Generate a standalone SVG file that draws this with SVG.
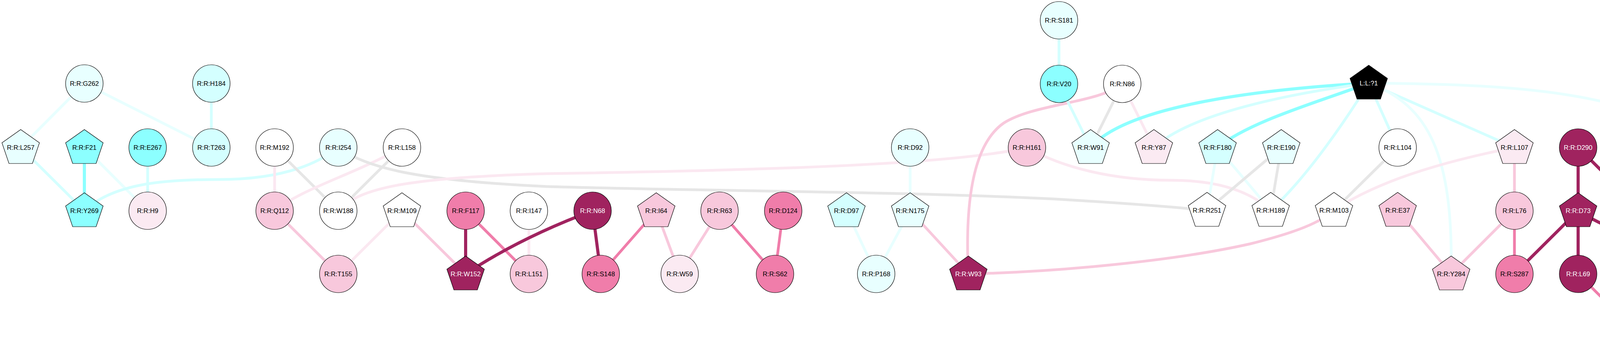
<svg xmlns="http://www.w3.org/2000/svg" xmlns:xlink="http://www.w3.org/1999/xlink" width="5395" height="920" viewBox="0 0 5395 920">
<style>
.e{fill:none;stroke-width:7;stroke-linecap:butt}
.ec1{stroke:#E8FFFF}.ec2{stroke:#D4FFFF}.ec3{stroke:#8CFFFF;stroke-width:8}
.eg{stroke:#E6E6E6}.ep1{stroke:#FBE8F1}.ep2{stroke:#F8C8DC}.ep3{stroke:#F07DAA}.ep4{stroke:#A0235F;stroke-width:8}
.nd circle,.nd use{stroke:#000;stroke-width:1.2}
.w{fill:#FFFFFF}.c1{fill:#E8FFFF}.c2{fill:#D4FFFF}.c3{fill:#8CFFFF}
.p1{fill:#FBEAF2}.p2{fill:#F8C8DC}.p3{fill:#F07DAA}.p4{fill:#A0235F}.k{fill:#000000}
text{font-family:"Liberation Sans",Arial,sans-serif;font-size:16.7px;text-anchor:middle;fill:#000}
text.tw{fill:#FFFFFF}
</style>
<defs>
<polygon id="pent" points="0,-46 48,-12 30,41 -30,41 -48,-12"/>
</defs>
<g id="connectors">
<line class="e ec1" x1="216" y1="214" x2="53" y2="378"/>
<line class="e ec1" x1="216" y1="214" x2="541" y2="378"/>
<line class="e ec2" x1="541" y1="214" x2="541" y2="378"/>
<line class="e ec2" x1="53" y1="378" x2="216" y2="540"/>
<line class="e ec3" x1="216" y1="378" x2="216" y2="540"/>
<line class="e ec1" x1="216" y1="378" x2="378" y2="540"/>
<line class="e ec2" x1="378" y1="378" x2="378" y2="540"/>
<path class="e ec2" d="M216,540 C290,470 420,460 560,460 C700,460 800,430 866,378"/>
<line class="e ep1" x1="703" y1="378" x2="703" y2="540"/>
<line class="e eg" x1="703" y1="378" x2="866" y2="540"/>
<line class="e eg" x1="1029" y1="378" x2="866" y2="540"/>
<path class="e ep1" d="M703,540 C780,480 900,450 1029,378"/>
<path class="e eg" d="M866,378 C940,430 1060,462 1400,478 C1800,490 2300,490 2700,510 C2900,522 3000,530 3090,539"/>
<path class="e ep1" d="M866,540 C920,480 1050,455 1400,445 C2000,436 2450,420 2629,378"/>
<line class="e ep2" x1="703" y1="540" x2="866" y2="702"/>
<line class="e ep1" x1="1029" y1="540" x2="866" y2="702"/>
<line class="e ep2" x1="1029" y1="540" x2="1192" y2="702"/>
<line class="e ep4" x1="1192" y1="540" x2="1192" y2="702"/>
<line class="e ep3" x1="1192" y1="540" x2="1354" y2="702"/>
<line class="e ep1" x1="1354" y1="540" x2="1354" y2="702"/>
<path class="e ep4" d="M1517,540 Q1330,610 1192,702"/>
<line class="e ep4" x1="1517" y1="540" x2="1538" y2="702"/>
<line class="e ep3" x1="1680" y1="540" x2="1538" y2="702"/>
<line class="e ep2" x1="1680" y1="540" x2="1740" y2="702"/>
<line class="e ep2" x1="1842" y1="540" x2="1740" y2="702"/>
<line class="e ep3" x1="1842" y1="540" x2="1984" y2="702"/>
<line class="e ep3" x1="2005" y1="540" x2="1984" y2="702"/>
<line class="e ec1" x1="2167" y1="540" x2="2243" y2="702"/>
<line class="e ec1" x1="2330" y1="540" x2="2243" y2="702"/>
<line class="e ec1" x1="2330" y1="378" x2="2330" y2="540"/>
<line class="e ep2" x1="2330" y1="540" x2="2479" y2="702"/>
<path class="e ep2" d="M2873,215 C2810,265 2650,265 2570,315 C2490,370 2470,520 2479,702"/>
<path class="e ep2" d="M2479,702 C2700,697 3000,670 3200,625 C3320,595 3380,570 3415,539"/>
<path class="e ep1" d="M2629,378 C2720,430 2850,462 3000,462 C3120,462 3200,490 3253,539"/>
<line class="e ec2" x1="2711" y1="52" x2="2711" y2="215"/>
<line class="e ec2" x1="2711" y1="215" x2="2792" y2="378"/>
<line class="e eg" x1="2873" y1="215" x2="2792" y2="378"/>
<line class="e ep1" x1="2873" y1="215" x2="2954" y2="378"/>
<path class="e ec3" d="M3504,213 C3200,230 2880,275 2792,378"/>
<path class="e ec2" d="M3504,213 C3300,240 3050,290 2954,378"/>
<path class="e ec3" d="M3504,213 C3380,260 3200,310 3117,378"/>
<path class="e ec2" d="M3504,213 C3450,300 3350,450 3253,539"/>
<line class="e ec2" x1="3504" y1="213" x2="3578" y2="378"/>
<path class="e ec1" d="M3504,213 C3900,215 4200,240 4365,378"/>
<line class="e ec2" x1="3504" y1="213" x2="3877" y2="378"/>
<path class="e ec1" d="M3504,213 C3660,270 3720,400 3715,702"/>
<line class="e ec1" x1="3117" y1="378" x2="3090" y2="539"/>
<line class="e ec1" x1="3117" y1="378" x2="3253" y2="539"/>
<line class="e eg" x1="3280" y1="378" x2="3090" y2="539"/>
<line class="e eg" x1="3280" y1="378" x2="3253" y2="539"/>
<line class="e eg" x1="3578" y1="378" x2="3415" y2="539"/>
<path class="e ep1" d="M3415,539 Q3560,440 3877,378"/>
<line class="e ep2" x1="3578" y1="539" x2="3715" y2="702"/>
<line class="e ep2" x1="3877" y1="378" x2="3877" y2="540"/>
<line class="e ep2" x1="3877" y1="540" x2="3715" y2="702"/>
<line class="e ep3" x1="3877" y1="540" x2="3877" y2="702"/>
<line class="e ep4" x1="4040" y1="378" x2="4040" y2="540"/>
<line class="e ep4" x1="4040" y1="378" x2="4203" y2="540"/>
<line class="e ep4" x1="4203" y1="52" x2="4203" y2="215"/>
<line class="e ep4" x1="4203" y1="215" x2="4203" y2="378"/>
<line class="e ep4" x1="4203" y1="378" x2="4203" y2="540"/>
<line class="e ep3" x1="4203" y1="378" x2="4514" y2="540"/>
<line class="e ep2" x1="4440" y1="215" x2="4365" y2="378"/>
<line class="e ep2" x1="4440" y1="215" x2="4514" y2="540"/>
<line class="e ep4" x1="4040" y1="540" x2="3877" y2="702"/>
<line class="e ep4" x1="4040" y1="540" x2="4040" y2="702"/>
<path class="e ep4" d="M4040,540 C4150,610 4280,630 4365,702"/>
<line class="e ep3" x1="4040" y1="702" x2="4203" y2="865"/>
<line class="e ep3" x1="4203" y1="702" x2="4203" y2="865"/>
<line class="e ep3" x1="4529" y1="702" x2="4203" y2="865"/>
<path class="e ep4" d="M4514,540 Q4700,600 4853,702"/>
<line class="e ep3" x1="4529" y1="702" x2="4608" y2="865"/>
<line class="e ep1" x1="4691" y1="702" x2="4608" y2="865"/>
<line class="e ep3" x1="4853" y1="702" x2="4934" y2="865"/>
<line class="e ep2" x1="5016" y1="702" x2="4934" y2="865"/>
<line class="e ep3" x1="5016" y1="540" x2="5016" y2="702"/>
<line class="e ep3" x1="5016" y1="540" x2="5178" y2="702"/>
<line class="e ep3" x1="5178" y1="540" x2="5178" y2="702"/>
<line class="e ep3" x1="5178" y1="540" x2="5341" y2="702"/>
<line class="e ep3" x1="5341" y1="540" x2="5341" y2="702"/>
<line class="e ep2" x1="5341" y1="378" x2="5341" y2="540"/>
</g>
<g class="nd">
<g id="n-S181"><circle class="c1" cx="2711" cy="52" r="48"/><text x="2711" y="58">R:R:S181</text></g>
<g id="n-F197"><use href="#pent" x="4203" y="52" class="p3"/><text x="4203" y="58">R:R:F197</text></g>
<g id="n-G262"><circle class="c1" cx="216" cy="214" r="48"/><text x="216" y="220">R:R:G262</text></g>
<g id="n-H184"><circle class="c2" cx="541" cy="214" r="48"/><text x="541" y="220">R:R:H184</text></g>
<g id="n-V20"><circle class="c3" cx="2711" cy="215" r="48"/><text x="2711" y="221">R:R:V20</text></g>
<g id="n-N86"><circle class="w" cx="2873" cy="215" r="48"/><text x="2873" y="221">R:R:N86</text></g>
<g id="n-L1"><use href="#pent" x="3504" y="213" class="k"/><text class="tw" x="3504" y="219">L:L:?1</text></g>
<g id="n-F240"><use href="#pent" x="4203" y="215" class="p4"/><text class="tw" x="4203" y="221">R:R:F240</text></g>
<g id="n-E196"><circle class="w" cx="4440" cy="215" r="48"/><text x="4440" y="221">R:R:E196</text></g>
<g id="n-L257"><use href="#pent" x="53" y="378" class="c1"/><text x="53" y="384">R:R:L257</text></g>
<g id="n-F21"><use href="#pent" x="216" y="378" class="c3"/><text x="216" y="384">R:R:F21</text></g>
<g id="n-E267"><circle class="c3" cx="378" cy="378" r="48"/><text x="378" y="384">R:R:E267</text></g>
<g id="n-T263"><circle class="c2" cx="541" cy="378" r="48"/><text x="541" y="384">R:R:T263</text></g>
<g id="n-M192"><circle class="w" cx="703" cy="378" r="48"/><text x="703" y="384">R:R:M192</text></g>
<g id="n-I254"><circle class="c1" cx="866" cy="378" r="48"/><text x="866" y="384">R:R:I254</text></g>
<g id="n-L158"><circle class="w" cx="1029" cy="378" r="48"/><text x="1029" y="384">R:R:L158</text></g>
<g id="n-D92"><circle class="c1" cx="2330" cy="378" r="48"/><text x="2330" y="384">R:R:D92</text></g>
<g id="n-H161"><circle class="p2" cx="2629" cy="378" r="48"/><text x="2629" y="384">R:R:H161</text></g>
<g id="n-W91"><use href="#pent" x="2792" y="378" class="c1"/><text x="2792" y="384">R:R:W91</text></g>
<g id="n-Y87"><use href="#pent" x="2954" y="378" class="p1"/><text x="2954" y="384">R:R:Y87</text></g>
<g id="n-F180"><use href="#pent" x="3117" y="378" class="c2"/><text x="3117" y="384">R:R:F180</text></g>
<g id="n-E190"><use href="#pent" x="3280" y="378" class="c1"/><text x="3280" y="384">R:R:E190</text></g>
<g id="n-L104"><circle class="w" cx="3578" cy="378" r="48"/><text x="3578" y="384">R:R:L104</text></g>
<g id="n-L107"><use href="#pent" x="3877" y="378" class="p1"/><text x="3877" y="384">R:R:L107</text></g>
<g id="n-D290"><circle class="p4" cx="4040" cy="378" r="48"/><text class="tw" x="4040" y="384">R:R:D290</text></g>
<g id="n-F244"><use href="#pent" x="4203" y="378" class="p3"/><text x="4203" y="384">R:R:F244</text></g>
<g id="n-R111"><circle class="p3" cx="4365" cy="378" r="48"/><text x="4365" y="384">R:R:R111</text></g>
<g id="n-I230"><circle class="p1" cx="5341" cy="378" r="48"/><text x="5341" y="384">R:R:I230</text></g>
<g id="n-Y269"><use href="#pent" x="216" y="540" class="c3"/><text x="216" y="546">R:R:Y269</text></g>
<g id="n-H9"><circle class="p1" cx="378" cy="540" r="48"/><text x="378" y="546">R:R:H9</text></g>
<g id="n-Q112"><circle class="p2" cx="703" cy="540" r="48"/><text x="703" y="546">R:R:Q112</text></g>
<g id="n-W188"><circle class="w" cx="866" cy="540" r="48"/><text x="866" y="546">R:R:W188</text></g>
<g id="n-M109"><use href="#pent" x="1029" y="540" class="w"/><text x="1029" y="546">R:R:M109</text></g>
<g id="n-F117"><circle class="p3" cx="1192" cy="540" r="48"/><text x="1192" y="546">R:R:F117</text></g>
<g id="n-I147"><circle class="w" cx="1354" cy="540" r="48"/><text x="1354" y="546">R:R:I147</text></g>
<g id="n-N68"><circle class="p4" cx="1517" cy="540" r="48"/><text class="tw" x="1517" y="546">R:R:N68</text></g>
<g id="n-I64"><use href="#pent" x="1680" y="540" class="p2"/><text x="1680" y="546">R:R:I64</text></g>
<g id="n-R63"><circle class="p2" cx="1842" cy="540" r="48"/><text x="1842" y="546">R:R:R63</text></g>
<g id="n-D124"><circle class="p3" cx="2005" cy="540" r="48"/><text x="2005" y="546">R:R:D124</text></g>
<g id="n-D97"><use href="#pent" x="2167" y="540" class="c2"/><text x="2167" y="546">R:R:D97</text></g>
<g id="n-N175"><use href="#pent" x="2330" y="540" class="c1"/><text x="2330" y="546">R:R:N175</text></g>
<g id="n-R251"><use href="#pent" x="3090" y="539" class="w"/><text x="3090" y="545">R:R:R251</text></g>
<g id="n-H189"><use href="#pent" x="3253" y="539" class="w"/><text x="3253" y="545">R:R:H189</text></g>
<g id="n-M103"><use href="#pent" x="3415" y="539" class="w"/><text x="3415" y="545">R:R:M103</text></g>
<g id="n-E37"><use href="#pent" x="3578" y="539" class="p2"/><text x="3578" y="545">R:R:E37</text></g>
<g id="n-L76"><circle class="p2" cx="3877" cy="540" r="48"/><text x="3877" y="546">R:R:L76</text></g>
<g id="n-D73"><use href="#pent" x="4040" y="540" class="p4"/><text class="tw" x="4040" y="546">R:R:D73</text></g>
<g id="n-N286"><use href="#pent" x="4203" y="540" class="p4"/><text class="tw" x="4203" y="546">R:R:N286</text></g>
<g id="n-I115"><circle class="p3" cx="4514" cy="540" r="48"/><text x="4514" y="546">R:R:I115</text></g>
<g id="n-C207"><circle class="p3" cx="5016" cy="540" r="48"/><text x="5016" y="546">R:R:C207</text></g>
<g id="n-I211"><circle class="p3" cx="5178" cy="540" r="48"/><text x="5178" y="546">R:R:I211</text></g>
<g id="n-L215"><circle class="p3" cx="5341" cy="540" r="48"/><text x="5341" y="546">R:R:L215</text></g>
<g id="n-T155"><circle class="p2" cx="866" cy="702" r="48"/><text x="866" y="708">R:R:T155</text></g>
<g id="n-W152"><use href="#pent" x="1192" y="702" class="p4"/><text class="tw" x="1192" y="708">R:R:W152</text></g>
<g id="n-L151"><circle class="p2" cx="1354" cy="702" r="48"/><text x="1354" y="708">R:R:L151</text></g>
<g id="n-S148"><circle class="p3" cx="1538" cy="702" r="48"/><text x="1538" y="708">R:R:S148</text></g>
<g id="n-W59"><circle class="p1" cx="1740" cy="702" r="48"/><text x="1740" y="708">R:R:W59</text></g>
<g id="n-S62"><circle class="p3" cx="1984" cy="702" r="48"/><text x="1984" y="708">R:R:S62</text></g>
<g id="n-P168"><circle class="c1" cx="2243" cy="702" r="48"/><text x="2243" y="708">R:R:P168</text></g>
<g id="n-W93"><use href="#pent" x="2479" y="702" class="p4"/><text class="tw" x="2479" y="708">R:R:W93</text></g>
<g id="n-Y284"><use href="#pent" x="3715" y="702" class="p2"/><text x="3715" y="708">R:R:Y284</text></g>
<g id="n-S287"><circle class="p3" cx="3877" cy="702" r="48"/><text x="3877" y="708">R:R:S287</text></g>
<g id="n-L69"><circle class="p4" cx="4040" cy="702" r="48"/><text class="tw" x="4040" y="708">R:R:L69</text></g>
<g id="n-L66"><circle class="p3" cx="4203" cy="702" r="48"/><text x="4203" y="708">R:R:L66</text></g>
<g id="n-N45"><circle class="p4" cx="4365" cy="702" r="48"/><text class="tw" x="4365" y="708">R:R:N45</text></g>
<g id="n-F301"><use href="#pent" x="4529" y="702" class="p4"/><text class="tw" x="4529" y="708">R:R:F301</text></g>
<g id="n-F304"><circle class="c1" cx="4691" cy="702" r="48"/><text x="4691" y="708">R:R:F304</text></g>
<g id="n-P200"><circle class="p4" cx="4853" cy="702" r="48"/><text class="tw" x="4853" y="708">R:R:P200</text></g>
<g id="n-I203"><circle class="p2" cx="5016" cy="702" r="48"/><text x="5016" y="708">R:R:I203</text></g>
<g id="n-Y126"><use href="#pent" x="5178" y="702" class="p2"/><text x="5178" y="708">R:R:Y126</text></g>
<g id="n-V129"><circle class="p3" cx="5341" cy="702" r="48"/><text x="5341" y="708">R:R:V129</text></g>
<g id="n-Y295"><use href="#pent" x="4203" y="865" class="p2"/><text x="4203" y="871">R:R:Y295</text></g>
<g id="n-I51"><circle class="p2" cx="4608" cy="865" r="48"/><text x="4608" y="871">R:R:I51</text></g>
<g id="n-T119"><circle class="p2" cx="4934" cy="865" r="48"/><text x="4934" y="871">R:R:T119</text></g>
</g>
</svg>
